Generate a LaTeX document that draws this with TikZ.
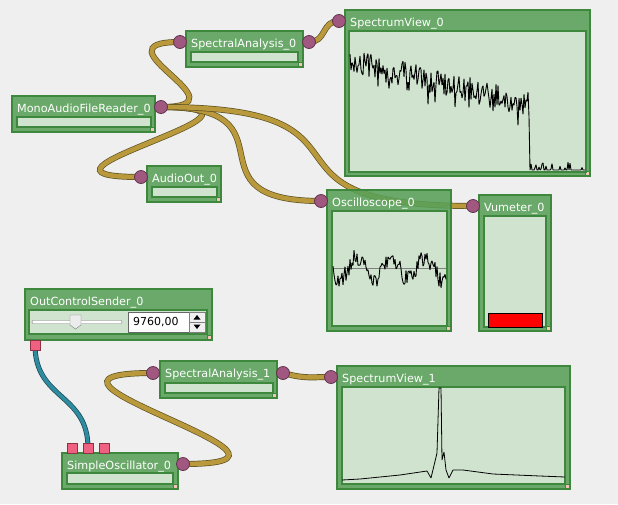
\documentclass[tikz,border=0pt]{standalone}
\usepackage{fontspec}
\setmainfont{DejaVu Sans}
\definecolor{bgcol}{RGB}{239,239,239}
\definecolor{modfill}{RGB}{88,160,88}
\definecolor{modedge}{RGB}{62,136,62}
\definecolor{panelfill}{RGB}{207,227,207}
\definecolor{portfill}{RGB}{160,88,128}
\definecolor{portedge}{RGB}{98,52,78}
\definecolor{cablefill}{RGB}{186,152,60}
\definecolor{cableedge}{RGB}{92,84,34}
\definecolor{bluefill}{RGB}{46,140,160}
\definecolor{blueedge}{RGB}{28,70,82}
\definecolor{ctlfill}{RGB}{240,96,128}
\definecolor{ctledge}{RGB}{140,50,70}
\definecolor{cornerfill}{RGB}{246,196,186}

\begin{document}
\begin{tikzpicture}[x=1pt,y=-1pt,
  module/.style={fill=modfill,draw=modedge,line width=1.4pt,fill opacity=0.88},
  panel/.style={fill=panelfill,draw=modedge,line width=1.2pt},
  corner/.style={fill=cornerfill,draw=modedge,line width=0.6pt},
  title/.style={anchor=base west,inner sep=0pt,text=white,font=\fontsize{11.2}{12}\selectfont},
  port/.style={circle,fill=portfill,draw=portedge,line width=0.8pt,minimum size=13pt,inner sep=0pt},
  ctlport/.style={rectangle,fill=ctlfill,draw=ctledge,line width=0.8pt,minimum size=10pt,inner sep=0pt},
  cable/.style={draw=cableedge,line width=0.7pt,double=cablefill,double distance=4.6pt},
  bluecable/.style={draw=blueedge,line width=0.7pt,double=bluefill,double distance=3.6pt},
  trace/.style={black,line width=0.9pt,line join=bevel}]
  \useasboundingbox (0,0) rectangle (618,504);
  \fill[bgcol] (0,0) rectangle (618,504);

  % ports first as named nodes, drawn again on top later
  \path (161,107) coordinate (monoout)
        (180,42) coordinate (sa0in)  (309,42) coordinate (sa0out)
        (339,21) coordinate (sv0in)  (141,177) coordinate (aoin)
        (321,201) coordinate (oscin) (473,206) coordinate (vuin)
        (153,373) coordinate (sa1in) (283,373) coordinate (sa1out)
        (331,377) coordinate (sv1in) (183,464) coordinate (soscout)
        (35,345) coordinate (ocsout) (88,448) coordinate (soscin);

  % cables
  \draw[cable] (monoout) .. controls +(90,0) and +(-90,0) .. (sa0in);
  \draw[cable] (sa0out) .. controls +(18,0) and +(-18,0) .. (sv0in);
  \draw[cable] (monoout) .. controls +(150,0) and +(-150,0) .. (aoin);
  \draw[cable] (monoout) .. controls +(140,0) and +(-140,0) .. (oscin);
  \draw[cable] (monoout) .. controls +(240,0) and +(-240,0) .. (vuin);
  \draw[cable] (soscout) .. controls +(170,0) and +(-170,0) .. (sa1in);
  \draw[cable] (sa1out) .. controls +(22,6) and +(-20,0) .. (sv1in);
  \draw[bluecable] (ocsout) .. controls +(0,55) and +(0,-55) .. (soscin);

  % module frames
  \foreach \xa/\ya/\xb/\yb in {186/31/303/67, 12/96/155/132, 147/166/221/202,
      345/10/590/176, 327/190/451/331, 479/195/551/331, 25/289/212/340,
      160/361/277/398, 337/366/570/489, 62/453/178/489}{
    \draw[module] (\xa,\ya) rectangle (\xb,\yb);
    \draw[corner] (\xb-5,\yb-5) rectangle (\xb-1,\yb-1);
  }

  % inner panels
  \foreach \xa/\ya/\xb/\yb in {191/52/298/62, 17/117/151/127, 152/187/217/197,
      349/31/586/172, 332/211/447/326, 484/216/546/327, 29/310/207/334,
      165/383/273/393, 342/387/565/484, 67/473/173/484}
    \draw[panel] (\xa,\ya) rectangle (\xb,\yb);

  % titles
  \node[title] (t-sa0)  at (191,47.5) {SpectralAnalysis\_0};
  \node[title] (t-mono) at (17,112.5) {MonoAudioFileReader\_0};
  \node[title] (t-ao)   at (152,182.5) {AudioOut\_0};
  \node[title] (t-sv0)  at (350,26.5) {SpectrumView\_0};
  \node[title] (t-osc)  at (332,206.5) {Oscilloscope\_0};
  \node[title] (t-vu)   at (484,211.5) {Vumeter\_0};
  \node[title] (t-ocs)  at (30,305.5) {OutControlSender\_0};
  \node[title] (t-sa1)  at (165,377.5) {SpectralAnalysis\_1};
  \node[title] (t-sv1)  at (342,382.5) {SpectrumView\_1};
  \node[title] (t-sosc) at (67,469.5) {SimpleOscillator\_0};

  % spectrum of the file
  \pgfmathsetseed{7}
  \draw[trace] plot[domain=350:585,samples=236]
    (\x,{ifthenelse(\x<530, 60+0.25*(\x-350)+13*rand+40*max(rand-0.55,0), 170-12*max(rand-0.3,0))});

  % oscilloscope trace
  \draw[gray,line width=0.6pt] (333,268) -- (446,268);
  \draw[trace] plot[domain=333:446,samples=114]
    (\x,{268-11*cos(10.6*(\x-357))+9*rand});

  % vumeter level
  \draw[fill=red,draw=black,line width=0.8pt] (488,313) rectangle (542,327);

  % spectrum of the oscillator
  \draw[trace,line width=0.8pt] (342,480) -- (360,479) -- (400,475) -- (427,471)
    -- (431,478) -- (437,453) -- (439,388) -- (441,388) -- (442,460) -- (444,452)
    -- (446,470) -- (449,478) -- (453,470) -- (463,470) -- (493,474) -- (540,476) -- (565,477);

  % slider and spin box
  \draw[gray,fill=white,rounded corners=1pt] (32,320.5) rectangle (122,323.5);
  \draw[gray,fill=gray!15] (70,315) -- (81,315) -- (81,325) -- (75.5,329) -- (70,325) -- cycle;
  \draw[gray!80!black,fill=white] (128,312) rectangle (189,332);
  \node[anchor=west,inner sep=0pt,font=\fontsize{11}{12}\selectfont] (spinval) at (133,322.5) {9760,00};
  \draw[gray,fill=gray!12] (189,312) rectangle (205,322);
  \draw[gray,fill=gray!12] (189,322) rectangle (205,332);
  \fill[black] (193.5,319.5) -- (200.5,319.5) -- (197,315) -- cycle;
  \fill[black] (193.5,324.5) -- (200.5,324.5) -- (197,329) -- cycle;

  % ports
  \foreach \p in {monoout,sa0in,sa0out,sv0in,aoin,oscin,vuin,sa1in,sa1out,sv1in,soscout}
    \node[port] (\p-dot) at (\p) {};
  \node[ctlport] (ocs-sq) at (ocsout) {};
  \node[ctlport] (sosc-sqa) at (72,448) {};
  \node[ctlport] (sosc-sqb) at (soscin) {};
  \node[ctlport] (sosc-sqc) at (104,448) {};
\end{tikzpicture}
\end{document}
